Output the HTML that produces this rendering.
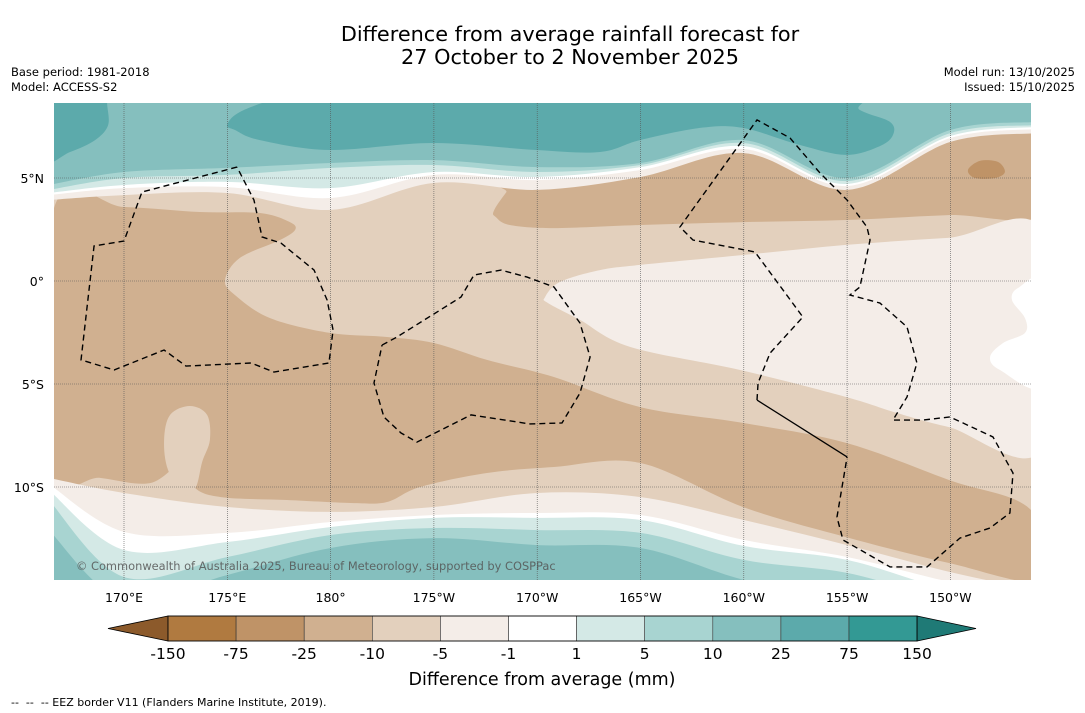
<!DOCTYPE html>
<html><head><meta charset="utf-8"><style>
body{margin:0;background:#fff;width:1085px;height:713px;overflow:hidden;font-family:"DejaVu Sans","Liberation Sans",sans-serif}
svg{position:absolute;left:0;top:0}
</style></head><body>
<svg id="chart" width="1085" height="713" viewBox="0 0 1085 713">
<defs><clipPath id="mapclip"><rect x="54" y="103" width="977" height="477"/></clipPath></defs>
<text x="570" y="41" font-size="20.8" text-anchor="middle" fill="#000">Difference from average rainfall forecast for</text>
<text x="570" y="64" font-size="20.8" text-anchor="middle" fill="#000">27 October to 2 November 2025</text>
<text x="11" y="76" font-size="11.5">Base period: 1981-2018</text>
<text x="11" y="91" font-size="11.5">Model: ACCESS-S2</text>
<text x="1075" y="76" font-size="11.5" text-anchor="end">Model run: 13/10/2025</text>
<text x="1075" y="91" font-size="11.5" text-anchor="end">Issued: 15/10/2025</text>
<g id="map" clip-path="url(#mapclip)"></g>
<g id="grid"></g>
<g id="eez" clip-path="url(#mapclip)"></g>
<text x="76" y="570" font-size="11.4" fill="#555" fill-opacity="0.85">© Commonwealth of Australia 2025, Bureau of Meteorology, supported by COSPPac</text>
<g id="axes"></g>
<g id="cbar"></g>
<text x="542" y="685" font-size="17.5" text-anchor="middle">Difference from average (mm)</text>
<text x="11" y="706" font-size="11">-- &#160;-- &#160;-- EEZ border V11 (Flanders Marine Institute, 2019).</text>
</svg>
<script>
// ---- data ----
const sampleLons=[166.6,170,175,180,185,190,195,200,205,210,213.9];
const north85=[4.66,5.29,5.49,5.73,5.87,5.53,5.73,6.84,5.0,7.33,7.72];
const northA8=[4.42,5.0,5.15,5.49,5.63,5.29,5.63,6.7,4.85,7.18,7.57];
const northD4=[4.27,4.66,4.81,4.51,5.29,5.05,5.53,6.55,4.71,7.04,7.48];
const northWhite=[4.17,4.51,4.56,4.03,5.15,4.9,5.39,6.41,4.61,6.94,7.38];
const northF4=[3.93,4.17,4.27,3.45,4.76,4.42,5.05,6.21,4.42,6.75,7.18];
const southF4=[-9.56,-10.29,-10.97,-11.21,-10.97,-10.29,-10.49,-11.6,-12.82,-14.13,-15.0];
const southWhite=[-9.85,-12.18,-12.23,-11.7,-11.36,-11.26,-11.36,-12.57,-13.4,-14.61,-15.34];
const southD4=[-10.15,-13.06,-12.67,-11.94,-11.5,-11.5,-11.6,-12.86,-13.54,-15.0,-15.49];
const southA8=[-10.63,-14.37,-13.4,-12.33,-11.99,-12.09,-12.23,-13.54,-14.17,-15.49,-15.73];
const south85=[-12.09,-15.49,-14.27,-12.96,-12.48,-12.82,-12.96,-14.51,-15.49,-15.97,-15.97];
const tanMain=[[166.61,3.54],[170,3.59],[173.68,3.35],[176.58,3.3],[178.03,2.86],[178.28,2.48],[177.55,1.99],[175.61,1.12],[174.89,0.05],[175.37,-0.68],[177.07,-1.8],[179.97,-2.52],[182.73,-2.72],[185.0,-3.01],[187.57,-3.83],[190.81,-4.66],[194.98,-6.12],[199.96,-6.89],[204.95,-7.86],[209.93,-9.66],[213.9,-11.12],[214.5,-14.51],[209.93,-13.69],[204.95,-12.43],[199.96,-10.97],[194.98,-8.83],[190.81,-9.03],[187.57,-9.32],[184.33,-10.0],[182.73,-10.73],[181.13,-10.78],[177.89,-10.63],[174.69,-10.49],[173.39,-10.0],[172.9,-8.79],[171.26,-9.81],[168.84,-9.56],[166.0,-9.17]];
const lightBlob=[[172.23,-6.5],[173.19,-6.07],[174.02,-6.5],[174.16,-7.72],[173.78,-8.79],[173.48,-10.0],[172.9,-10.39],[172.13,-9.17],[171.94,-7.72]];
const tanNorth=[[187.9,3.4],[188.5,4.3],[189.5,5.5],[213.9,8],[214.5,3.3],[209.9,3.2],[204.95,2.96],[199.96,2.86],[194.98,2.72],[190.81,2.57],[188.68,2.72],[188.0,3.1]];
const tanDark=[[210.85,5.39],[211.43,5.83],[212.3,5.78],[212.64,5.29],[212.16,5.0],[211.19,5.0]];
const eastLight=[[190.38,-0.78],[191.1,-0.05],[193.04,0.53],[194.98,0.78],[199.96,1.26],[204.95,1.75],[209.88,2.09],[214.5,2.33],[214.5,-8.06],[209.93,-7.09],[207.42,-6.41],[204.95,-5.63],[199.82,-4.32],[194.49,-3.2],[192.07,-1.89],[190.52,-1.07]];
const eastWhite=[[214.5,-0.1],[213.27,-0.34],[212.98,-0.92],[213.61,-1.8],[213.61,-2.52],[212.55,-3.01],[211.92,-3.69],[212.4,-4.32],[214.5,-5.05]];
const tealLeft=[[166,9.5],[169.18,9.5],[169.18,8.64],[169.23,7.57],[168.6,6.84],[167.39,6.26],[166,5.87]];
const tealCentral=[[174.99,7.57],[175.6,8.2],[177.5,8.9],[180,9.5],[203.69,9.5],[205.62,8.3],[207.08,7.72],[207.22,7.09],[206.59,6.55],[204.95,6.12],[202.72,6.6],[199.96,7.43],[197.88,7.43],[194.98,6.84],[193.04,6.26],[189.94,6.36],[184.96,6.7],[179.97,6.36],[176.58,6.84],[175.37,7.33]];
const eezA=[[175.47,5.53],[170.87,4.32],[170,1.94],[168.55,1.7],[167.92,-3.83],[169.52,-4.32],[171.94,-3.35],[173.0,-4.13],[176.15,-3.98],[177.26,-4.42],[179.92,-3.98],[180.12,-2.38],[179.83,-0.92],[179.2,0.53],[177.6,1.84],[176.68,2.14],[176.29,3.93],[175.47,5.53]];
const eezB=[[182.49,-3.11],[183.21,-2.72],[186.31,-0.78],[186.94,0.29],[188.25,0.53],[189.51,0.19],[190.81,-0.29],[192.07,-2.04],[192.56,-3.69],[192.07,-5.44],[191.2,-6.89],[189.65,-6.94],[186.8,-6.5],[184.18,-7.82],[183.41,-7.38],[182.58,-6.6],[182.1,-4.95],[182.49,-3.11]];
const eezC=[[200.64,-5.78],[200.69,-4.95],[201.27,-3.5],[202.86,-1.75],[201.9,-0.44],[200.54,1.41],[197.54,1.99],[196.91,2.62],[200.64,7.82],[202.24,6.94],[203.69,5.24],[205.0,3.93],[205.96,2.62],[206.11,1.99],[205.62,-0.29],[205.14,-0.68],[206.59,-1.07],[207.9,-2.23],[208.38,-3.98],[207.9,-5.63],[207.22,-6.75],[208.67,-6.75],[209.98,-6.6],[212.06,-7.57],[213.03,-9.32],[212.88,-11.26],[211.92,-11.99],[210.46,-12.48],[208.87,-13.88],[207.08,-13.88],[204.8,-12.57],[204.51,-11.46],[205.0,-8.54]];
const eezCsolid=[[205.0,-8.54],[200.64,-5.78]];
const lonTicks=[170,175,180,185,190,195,200,205,210];
const lonLabels=["170°E","175°E","180°","175°W","170°W","165°W","160°W","155°W","150°W"];
const latTicks=[5,0,-5,-10];
const latLabels=["5°N","0°","5°S","10°S"];
const cbLabels=["-150","-75","-25","-10","-5","-1","1","5","10","25","75","150"];
const cbColors=["#8c5a2b","#b07a40","#bf9367","#d0b090","#e3d0bd","#f4ede8","#ffffff","#d4e9e6","#a8d4d1","#85bfbe","#5caaab","#339994","#1f7a76"];

const X=lon=>124+(lon-170)*20.66;
const Y=lat=>281-lat*20.6;
const NS="http://www.w3.org/2000/svg";
function mk(tag,attrs,parent){const e=document.createElementNS(NS,tag);for(const k in attrs)e.setAttribute(k,attrs[k]);parent.appendChild(e);return e;}
function spline(pts,closed){
  const n=pts.length;let d="M"+pts[0][0].toFixed(1)+","+pts[0][1].toFixed(1);
  const P=i=>closed?pts[(i+n)%n]:pts[Math.max(0,Math.min(n-1,i))];
  const segs=closed?n:n-1;
  for(let i=0;i<segs;i++){const p0=P(i-1),p1=P(i),p2=P(i+1),p3=P(i+2);
    const c1=[p1[0]+(p2[0]-p0[0])/6,p1[1]+(p2[1]-p0[1])/6],c2=[p2[0]-(p3[0]-p1[0])/6,p2[1]-(p3[1]-p1[1])/6];
    d+="C"+c1[0].toFixed(1)+","+c1[1].toFixed(1)+" "+c2[0].toFixed(1)+","+c2[1].toFixed(1)+" "+p2[0].toFixed(1)+","+p2[1].toFixed(1);}
  return d+(closed?"Z":"");
}
const proj=a=>a.map(p=>[X(p[0]),Y(p[1])]);
const map=document.getElementById('map');
function region(arr,color,name){const e=mk('path',{d:spline(proj(arr),true),fill:color},map);

}
function band(lats,color,fromTop,name){
  const pts=sampleLons.map((l,i)=>[X(l),Y(lats[i])]);
  pts[0][0]-=5;pts[pts.length-1][0]+=5;
  const yy=fromTop?90:600;
  const d=spline(pts,false)+"L"+pts[pts.length-1][0]+","+yy+"L"+pts[0][0]+","+yy+"Z";
  const e=mk('path',{d:d,fill:color},map);
  
  
}
const bg=mk('rect',{x:54,y:103,width:977,height:477,fill:"#e3d0bd"},map);


region(tanMain,"#d0b090","band-minus25-south");
region(lightBlob,"#e3d0bd","band-minus10-blob");
region(tanNorth,"#d0b090","band-minus25-north");
region(tanDark,"#bf9367","band-minus75-patch");
region(eastLight,"#f4ede8","band-minus5-east");
region(eastWhite,"#ffffff","band-neutral-east");
band(southF4,"#f4ede8",false,"south-band-minus5");
band(southWhite,"#ffffff",false,"south-band-neutral");
band(southD4,"#d4e9e6",false,"south-band-plus1");
band(southA8,"#a8d4d1",false,"south-band-plus5");
band(south85,"#85bfbe",false,"south-band-plus10");
band(northF4,"#f4ede8",true,"north-band-minus5");
band(northWhite,"#ffffff",true,"north-band-neutral");
band(northD4,"#d4e9e6",true,"north-band-plus1");
band(northA8,"#a8d4d1",true,"north-band-plus5");
band(north85,"#85bfbe",true,"north-band-plus10");
region(tealLeft,"#5caaab","band-plus25-west");
region(tealCentral,"#5caaab","band-plus25-central");

const grid=document.getElementById('grid');
lonTicks.forEach(l=>{const g=mk('line',{x1:X(l),x2:X(l),y1:103,y2:580,stroke:"#555","stroke-width":0.6,"stroke-dasharray":"1,1"},grid);

});
latTicks.forEach(l=>{const g=mk('line',{x1:54,x2:1031,y1:Y(l),y2:Y(l),stroke:"#555","stroke-width":0.6,"stroke-dasharray":"1,1"},grid);

});

const eez=document.getElementById('eez');
[eezA,eezB,eezC].forEach(a=>{const e=mk('polyline',{points:proj(a).map(p=>p.join(",")).join(" "),fill:"none",stroke:"#000","stroke-width":1.4,"stroke-dasharray":"6,4"},eez);

});
const es=mk('polyline',{points:proj(eezCsolid).map(p=>p.join(",")).join(" "),fill:"none",stroke:"#000","stroke-width":1.3},eez);



const axes=document.getElementById('axes');
lonTicks.forEach((l,i)=>{const t=mk('text',{x:X(l),y:602,"font-size":12.5,"text-anchor":"middle"},axes);t.textContent=lonLabels[i];

});
latTicks.forEach((l,i)=>{const t=mk('text',{x:44,y:Y(l)+5,"font-size":12.5,"text-anchor":"end"},axes);t.textContent=latLabels[i];

});

const cb=document.getElementById('cbar');
const cx0=168,cw=68.1,cy=616,ch=25;
const lt=mk('polygon',{points:`108,${cy+ch/2} ${cx0},${cy} ${cx0},${cy+ch}`,fill:cbColors[0],stroke:"#000","stroke-width":0.8},cb);


for(let i=0;i<cbLabels.length-1;i++){const r=mk('rect',{x:cx0+i*cw,y:cy,width:cw,height:ch,fill:cbColors[i+1],stroke:"#333","stroke-width":0.6},cb);

}
const xe=cx0+(cbLabels.length-1)*cw;
const rt=mk('polygon',{points:`${xe},${cy} 976,${cy+ch/2} ${xe},${cy+ch}`,fill:cbColors[cbColors.length-1],stroke:"#000","stroke-width":0.8},cb);


const fr=mk('rect',{x:cx0,y:cy,width:xe-cx0,height:ch,fill:"none",stroke:"#000","stroke-width":0.8},cb);


cbLabels.forEach((s,i)=>{const t=mk('text',{x:cx0+i*cw,y:659,"font-size":15.5,"text-anchor":"middle"},cb);t.textContent=s;

});
</script>
</body></html>
